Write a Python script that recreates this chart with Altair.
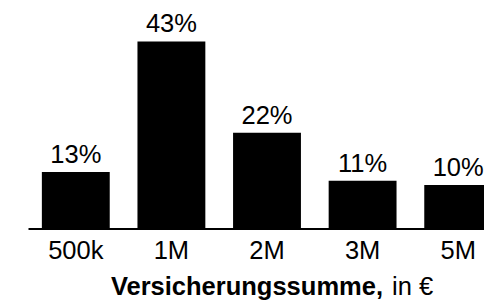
import altair as alt
import pandas as pd

categories = ["500k", "1M", "2M", "3M", "5M"]
shares = [13, 43, 22, 11, 10]
labels = ["13%", "43%", "22%", "11%", "10%"]

df = pd.DataFrame({"cat": categories, "share": shares, "label": labels})

FONT = "Liberation Sans"
FS = 25.5

x = alt.X("cat:N", sort=categories,
          scale=alt.Scale(range=[0, 478], paddingInner=0.29, paddingOuter=0.145),
          axis=alt.Axis(title=None, ticks=False, labelAngle=0, labelFontSize=FS,
                        labelFont=FONT, labelColor="black", labelBaseline="alphabetic",
                        labelPadding=30, domainColor="black", domainWidth=2, grid=False))
y = alt.Y("share:Q", scale=alt.Scale(domain=[0, 50]), axis=None)

base = alt.Chart(df)
bars = base.mark_bar(color="black").encode(x=x, y=y)
text = base.mark_text(baseline="alphabetic", dy=-9, fontSize=FS, font=FONT, color="black").encode(
    x=alt.X("cat:N", sort=categories), y="share:Q", text="label:N")

tdf = pd.DataFrame({"a": ["Versicherungssumme,"], "b": ["in €"]})
t1 = alt.Chart(tdf).mark_text(align="right", baseline="alphabetic", fontSize=FS, fontWeight="bold",
                              font=FONT, color="black").encode(
    x=alt.value(355), y=alt.value(284), text="a:N")
t2 = alt.Chart(tdf).mark_text(align="left", baseline="alphabetic", fontSize=FS,
                              font=FONT, color="black").encode(
    x=alt.value(364), y=alt.value(284), text="b:N")

chart = alt.layer(bars, text, t1, t2).properties(
    width=456, height=217.5,
    autosize=alt.AutoSizeParams(type="none"),
    padding={"left": 20, "top": 3, "right": 0, "bottom": 71.5},
).configure(background="white").configure_view(strokeWidth=0, stroke="transparent")

chart.save("out.html", embed_options={"renderer": "svg", "actions": False})
